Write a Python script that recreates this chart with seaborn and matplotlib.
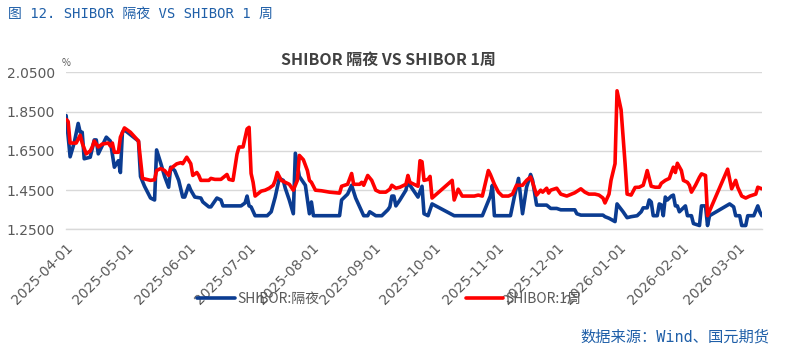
import pandas as pd
import numpy as np
import matplotlib
matplotlib.use("Agg")
import matplotlib.pyplot as plt
import matplotlib.dates as mdates
import seaborn as sns

# SHIBOR 隔夜 (%)
on_dates = ["2025-04-01", "2025-04-03", "2025-04-05", "2025-04-07", "2025-04-08", "2025-04-09",
            "2025-04-10", "2025-04-13", "2025-04-15", "2025-04-16", "2025-04-17", "2025-04-21",
            "2025-04-23", "2025-04-24", "2025-04-25", "2025-04-27", "2025-04-28", "2025-04-29",
            "2025-04-30", "2025-05-07", "2025-05-08", "2025-05-10", "2025-05-13", "2025-05-15",
            "2025-05-16", "2025-05-18", "2025-05-20", "2025-05-22", "2025-05-23", "2025-05-25",
            "2025-05-27", "2025-05-29", "2025-05-30", "2025-06-01", "2025-06-02", "2025-06-04",
            "2025-06-07", "2025-06-08", "2025-06-11", "2025-06-12", "2025-06-15", "2025-06-17",
            "2025-06-18", "2025-06-27", "2025-06-29", "2025-06-30", "2025-07-01", "2025-07-02",
            "2025-07-04", "2025-07-10", "2025-07-12", "2025-07-14", "2025-07-16", "2025-07-18",
            "2025-07-19", "2025-07-21", "2025-07-23", "2025-07-24", "2025-07-26", "2025-07-29",
            "2025-07-31", "2025-08-01", "2025-08-02", "2025-08-15", "2025-08-16", "2025-08-19",
            "2025-08-21", "2025-08-23", "2025-08-25", "2025-08-27", "2025-08-29", "2025-08-30",
            "2025-09-02", "2025-09-05", "2025-09-08", "2025-09-09", "2025-09-10", "2025-09-11",
            "2025-09-12", "2025-09-14", "2025-09-17", "2025-09-18", "2025-09-19", "2025-09-23",
            "2025-09-25", "2025-09-26", "2025-09-28", "2025-09-30", "2025-10-11", "2025-10-25",
            "2025-10-29", "2025-10-30", "2025-10-31", "2025-11-08", "2025-11-10", "2025-11-12",
            "2025-11-14", "2025-11-16", "2025-11-18", "2025-11-19", "2025-11-21", "2025-11-26",
            "2025-11-28", "2025-12-01", "2025-12-03", "2025-12-10", "2025-12-11", "2025-12-13",
            "2025-12-24", "2025-12-25", "2025-12-27", "2025-12-30", "2025-12-31", "2026-01-03",
            "2026-01-05", "2026-01-07", "2026-01-10", "2026-01-12", "2026-01-13", "2026-01-15",
            "2026-01-16", "2026-01-17", "2026-01-18", "2026-01-20", "2026-01-21", "2026-01-22",
            "2026-01-23", "2026-01-24", "2026-01-25", "2026-01-27", "2026-01-28", "2026-01-29",
            "2026-01-30", "2026-01-31", "2026-02-02", "2026-02-03", "2026-02-04", "2026-02-06",
            "2026-02-07", "2026-02-10", "2026-02-11", "2026-02-13", "2026-02-14", "2026-02-15",
            "2026-02-25", "2026-02-27", "2026-02-28", "2026-03-02", "2026-03-03", "2026-03-05",
            "2026-03-06", "2026-03-09", "2026-03-11", "2026-03-12", "2026-03-13"]
on_rates = [1.83, 1.62, 1.69, 1.79, 1.745, 1.745,
            1.61, 1.618, 1.706, 1.706, 1.635, 1.72,
            1.70, 1.635, 1.567, 1.60, 1.54, 1.745,
            1.757, 1.70, 1.52, 1.47, 1.41, 1.40,
            1.655, 1.59, 1.52, 1.465, 1.567, 1.55,
            1.50, 1.415, 1.415, 1.475, 1.45, 1.415,
            1.41, 1.39, 1.365, 1.365, 1.41, 1.40,
            1.37, 1.37, 1.385, 1.42, 1.37, 1.365,
            1.32, 1.32, 1.34, 1.415, 1.51, 1.50,
            1.46, 1.40, 1.33, 1.638, 1.52, 1.475,
            1.33, 1.39, 1.32, 1.32, 1.40, 1.43,
            1.475, 1.41, 1.365, 1.32, 1.32, 1.34,
            1.32, 1.32, 1.35, 1.365, 1.42, 1.42,
            1.37, 1.40, 1.45, 1.50, 1.475, 1.415,
            1.47, 1.33, 1.32, 1.38, 1.32, 1.32,
            1.42, 1.475, 1.32, 1.32, 1.42, 1.51,
            1.33, 1.465, 1.53, 1.50, 1.374, 1.374,
            1.357, 1.357, 1.35, 1.35, 1.33, 1.323,
            1.323, 1.315, 1.307, 1.29, 1.38, 1.34,
            1.31, 1.315, 1.32, 1.34, 1.36, 1.36,
            1.40, 1.39, 1.32, 1.32, 1.38, 1.375,
            1.32, 1.415, 1.40, 1.42, 1.425, 1.37,
            1.37, 1.34, 1.36, 1.37, 1.32, 1.32,
            1.28, 1.27, 1.37, 1.37, 1.27, 1.32,
            1.38, 1.365, 1.32, 1.32, 1.27, 1.27,
            1.32, 1.32, 1.37, 1.34, 1.32]

# SHIBOR 1周 (%)
w1_dates = ["2025-04-01", "2025-04-02", "2025-04-03", "2025-04-06", "2025-04-08", "2025-04-09",
            "2025-04-11", "2025-04-13", "2025-04-14", "2025-04-15", "2025-04-17", "2025-04-19",
            "2025-04-22", "2025-04-23", "2025-04-24", "2025-04-25", "2025-04-27", "2025-04-28",
            "2025-04-30", "2025-05-03", "2025-05-07", "2025-05-09", "2025-05-11", "2025-05-13",
            "2025-05-15", "2025-05-16", "2025-05-18", "2025-05-20", "2025-05-22", "2025-05-23",
            "2025-05-26", "2025-05-28", "2025-05-29", "2025-05-31", "2025-06-02", "2025-06-03",
            "2025-06-05", "2025-06-06", "2025-06-07", "2025-06-11", "2025-06-12", "2025-06-14",
            "2025-06-17", "2025-06-20", "2025-06-21", "2025-06-23", "2025-06-25", "2025-06-26",
            "2025-06-28", "2025-06-30", "2025-07-01", "2025-07-02", "2025-07-03", "2025-07-04",
            "2025-07-07", "2025-07-09", "2025-07-11", "2025-07-13", "2025-07-14", "2025-07-15",
            "2025-07-17", "2025-07-21", "2025-07-23", "2025-07-25", "2025-07-26", "2025-07-28",
            "2025-07-30", "2025-07-31", "2025-08-01", "2025-08-03", "2025-08-06", "2025-08-10",
            "2025-08-15", "2025-08-16", "2025-08-19", "2025-08-21", "2025-08-22", "2025-08-25",
            "2025-08-26", "2025-08-27", "2025-08-29", "2025-08-31", "2025-09-02", "2025-09-04",
            "2025-09-07", "2025-09-09", "2025-09-10", "2025-09-12", "2025-09-14", "2025-09-17",
            "2025-09-18", "2025-09-19", "2025-09-21", "2025-09-23", "2025-09-24", "2025-09-25",
            "2025-09-26", "2025-09-28", "2025-09-29", "2025-09-30", "2025-10-10", "2025-10-11",
            "2025-10-13", "2025-10-15", "2025-10-21", "2025-10-23", "2025-10-25", "2025-10-28",
            "2025-10-29", "2025-10-31", "2025-11-02", "2025-11-04", "2025-11-07", "2025-11-09",
            "2025-11-11", "2025-11-14", "2025-11-16", "2025-11-18", "2025-11-19", "2025-11-21",
            "2025-11-23", "2025-11-24", "2025-11-26", "2025-11-27", "2025-11-28", "2025-12-01",
            "2025-12-03", "2025-12-06", "2025-12-09", "2025-12-10", "2025-12-13", "2025-12-15",
            "2025-12-17", "2025-12-20", "2025-12-22", "2025-12-24", "2025-12-25", "2025-12-27",
            "2025-12-28", "2025-12-30", "2025-12-31", "2026-01-02", "2026-01-04", "2026-01-05",
            "2026-01-07", "2026-01-09", "2026-01-11", "2026-01-13", "2026-01-14", "2026-01-15",
            "2026-01-17", "2026-01-19", "2026-01-21", "2026-01-22", "2026-01-24", "2026-01-26",
            "2026-01-27", "2026-01-28", "2026-01-29", "2026-01-30", "2026-02-01", "2026-02-02",
            "2026-02-04", "2026-02-05", "2026-02-06", "2026-02-08", "2026-02-10", "2026-02-11",
            "2026-02-13", "2026-02-14", "2026-02-24", "2026-02-26", "2026-02-28", "2026-03-01",
            "2026-03-03", "2026-03-05", "2026-03-07", "2026-03-10", "2026-03-11", "2026-03-13"]
w1_rates = [1.81, 1.80, 1.69, 1.69, 1.73, 1.69,
            1.635, 1.65, 1.67, 1.70, 1.67, 1.685,
            1.69, 1.675, 1.69, 1.643, 1.643, 1.72,
            1.767, 1.745, 1.70, 1.51, 1.505, 1.50,
            1.503, 1.55, 1.56, 1.55, 1.525, 1.56,
            1.584, 1.59, 1.585, 1.618, 1.585, 1.525,
            1.54, 1.525, 1.50, 1.50, 1.51, 1.505,
            1.505, 1.53, 1.505, 1.50, 1.634, 1.67,
            1.67, 1.762, 1.77, 1.535, 1.49, 1.42,
            1.445, 1.45, 1.46, 1.475, 1.50, 1.54,
            1.50, 1.48, 1.45, 1.50, 1.627, 1.605,
            1.55, 1.50, 1.49, 1.45, 1.447, 1.44,
            1.435, 1.47, 1.48, 1.535, 1.48, 1.48,
            1.49, 1.475, 1.525, 1.50, 1.45, 1.44,
            1.44, 1.455, 1.475, 1.46, 1.465, 1.48,
            1.525, 1.49, 1.48, 1.47, 1.60, 1.595,
            1.50, 1.505, 1.52, 1.41, 1.50, 1.40,
            1.455, 1.42, 1.42, 1.425, 1.42, 1.55,
            1.53, 1.48, 1.44, 1.42, 1.42, 1.43,
            1.475, 1.475, 1.50, 1.517, 1.49, 1.425,
            1.45, 1.44, 1.46, 1.435, 1.45, 1.46,
            1.43, 1.42, 1.433, 1.437, 1.457, 1.44,
            1.43, 1.43, 1.425, 1.41, 1.385, 1.43,
            1.50, 1.585, 1.956, 1.86, 1.585, 1.43,
            1.425, 1.464, 1.465, 1.475, 1.51, 1.55,
            1.47, 1.465, 1.465, 1.485, 1.50, 1.51,
            1.54, 1.567, 1.54, 1.587, 1.55, 1.50,
            1.49, 1.475, 1.44, 1.475, 1.516, 1.533,
            1.525, 1.32, 1.557, 1.457, 1.50, 1.465,
            1.42, 1.41, 1.42, 1.43, 1.465, 1.457]

y_ticks = [1.25, 1.45, 1.65, 1.85, 2.05]
month_ticks = pd.date_range("2025-04-01", "2026-03-01", freq="MS")

on = pd.DataFrame({"date": pd.to_datetime(on_dates), "rate": on_rates})
w1 = pd.DataFrame({"date": pd.to_datetime(w1_dates), "rate": w1_rates})

sns.set_style("white")
plt.rcParams['font.family'] = ['Noto Sans CJK SC', 'DejaVu Sans']
plt.rcParams['axes.unicode_minus'] = False
mono = ['DejaVu Sans Mono', 'Noto Sans CJK SC']

fig = plt.figure(figsize=(7.87, 3.53), dpi=100)
ax = fig.add_axes([0.084, 0.350, 0.884, 0.445])

sns.lineplot(data=on, x="date", y="rate", ax=ax, color="#0B3C91", linewidth=2.6,
             label="SHIBOR:隔夜", zorder=3)
sns.lineplot(data=w1, x="date", y="rate", ax=ax, color="#FF0000", linewidth=2.6,
             label="SHIBOR:1周", zorder=4)

ax.set_xlim(pd.Timestamp("2025-04-01"), pd.Timestamp("2026-03-13"))
ax.set_ylim(1.25, 2.05)
ax.set_yticks(y_ticks)
ax.yaxis.set_major_formatter(matplotlib.ticker.FormatStrFormatter("%.4f"))
ax.set_xticks(month_ticks)
ax.xaxis.set_major_formatter(mdates.DateFormatter("%Y-%m-%d"))
ax.grid(axis="y", color="#d9d9d9", linewidth=1)
ax.set_xlabel("")
ax.set_ylabel("")
for s in ["left", "right", "top"]:
    ax.spines[s].set_visible(False)
ax.spines["bottom"].set_color("#d9d9d9")
ax.spines["bottom"].set_linewidth(1)
ax.tick_params(axis="x", length=5, color="#d9d9d9", pad=3, labelsize=10, labelcolor="#595959")
ax.tick_params(axis="y", length=0, pad=8, labelsize=10, labelcolor="#595959")
for lbl in ax.get_xticklabels():
    lbl.set_rotation(45)
    lbl.set_ha("right")
    lbl.set_va("top")
    lbl.set_rotation_mode("anchor")
    lbl.set_family("DejaVu Sans")
for lbl in ax.get_yticklabels():
    lbl.set_family("DejaVu Sans")

ax.get_legend().remove()
h, l = ax.get_legend_handles_labels()
fig.legend(h, l, loc="center", bbox_to_anchor=(0.495, 0.153), ncol=2, frameon=False,
           fontsize=10, labelcolor="#595959", handlelength=2.7, handletextpad=0.2,
           columnspacing=10.5)

ax.text(0.0, 1.03, "%", transform=ax.transAxes, fontsize=7, color="#595959", ha="center", va="bottom")
fig.text(0.493, 0.83, "SHIBOR 隔夜 VS SHIBOR 1周", ha="center", va="center",
         fontsize=11.5, fontweight="bold", color="#404040")
fig.text(0.01, 0.96, "图 12. SHIBOR 隔夜 VS SHIBOR 1 周", ha="left", va="center",
         fontsize=10, color="#1F5FA8", family=mono)
fig.text(0.978, 0.045, "数据来源：Wind、国元期货", ha="right", va="center",
         fontsize=11, color="#1F5FA8", family=mono)

fig.savefig("out.png", dpi=100)
